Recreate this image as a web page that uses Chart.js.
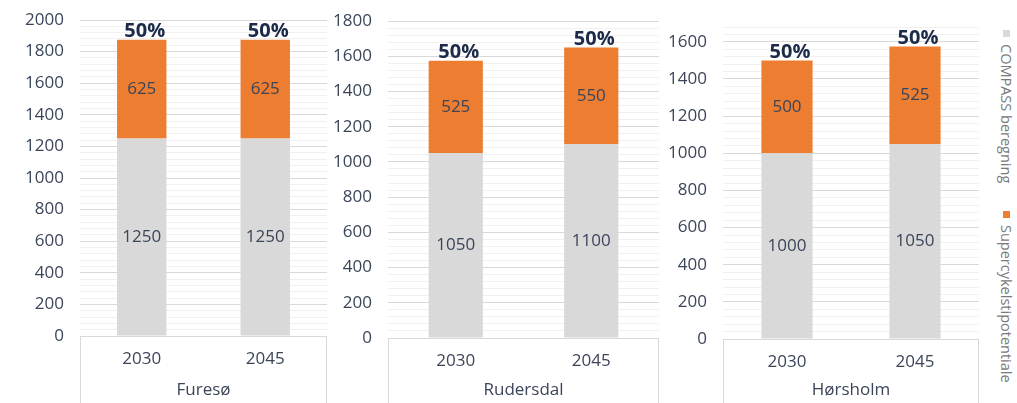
<!DOCTYPE html>
<html>
<head>
<meta charset="utf-8">
<script src="https://cdn.jsdelivr.net/npm/chart.js@4.4.1/dist/chart.umd.min.js"></script>
<style>
  body { margin: 0; background: #fff; width: 1017px; height: 403px; overflow: hidden; position: relative; font-family: 'Open Sans', sans-serif; }
  .panel { position: absolute; top: 0; height: 403px; }
  .legend { position: absolute; left: 997px; writing-mode: vertical-rl; font-size: 14.5px; color: #7a7a7a; white-space: nowrap; }
  .legend i { display: inline-block; width: 7px; height: 7px; margin-bottom: 7px; }
</style>
</head>
<body>
<div class="panel" id="p0" style="left:0;width:330px"><canvas id="c0"></canvas></div>
<div class="panel" id="p1" style="left:330px;width:330px"><canvas id="c1"></canvas></div>
<div class="panel" id="p2" style="left:660px;width:325px"><canvas id="c2"></canvas></div>
<div class="legend" style="top:30px"><i style="background:#d9d9d9"></i>COMPASS beregning</div>
<div class="legend" style="top:211px"><i style="background:#ed7d31"></i>Supercykelstipotentiale</div>
<script>
const years = ['2030', '2045'];
const kommuner = ['Furesø', 'Rudersdal', 'Hørsholm'];
const compass = [[1250, 1250], [1050, 1100], [1000, 1050]];
const potentiale = [[625, 625], [525, 550], [500, 525]];
const yMax = [2000, 1800, 1680];

// panel geometry (px)
const axisWidth = [80, 58, 63];
const padTop = [20, 21, 27];
const padRight = [3, 1, 6];
const plotBottom = [336, 338, 339];

const textColor = '#3b4559';

const boxLines = {
    id: 'boxLines',
    afterDraw(chart) {
        const { ctx, chartArea } = chart;
        ctx.save();
        ctx.strokeStyle = '#d9d9d9';
        ctx.lineWidth = 1;
        ctx.beginPath();
        ctx.moveTo(Math.round(chartArea.left) + 0.5, chartArea.bottom);
        ctx.lineTo(Math.round(chartArea.left) + 0.5, chart.height);
        ctx.moveTo(Math.round(chartArea.right) - 0.5, chartArea.bottom);
        ctx.lineTo(Math.round(chartArea.right) - 0.5, chart.height);
        ctx.stroke();
        ctx.restore();
    }
};

const barLabels = {
    id: 'barLabels',
    afterDatasetsDraw(chart) {
        const ctx = chart.ctx;
        ctx.save();
        ctx.textAlign = 'center';
        chart.data.datasets.forEach((ds, i) => {
            chart.getDatasetMeta(i).data.forEach((bar, j) => {
                ctx.fillStyle = textColor;
                ctx.font = '17px "Open Sans"';
                ctx.textBaseline = 'middle';
                ctx.fillText(ds.data[j], bar.x, (bar.y + bar.base) / 2);
            });
        });
        // percentage over the stack
        const base = chart.data.datasets[0].data;
        const top = chart.data.datasets[1].data;
        chart.getDatasetMeta(1).data.forEach((bar, j) => {
            ctx.fillStyle = '#1c2b4a';
            ctx.font = 'bold 20px "Open Sans"';
            ctx.textBaseline = 'bottom';
            ctx.fillText(Math.round(top[j] / base[j] * 100) + '%', bar.x + 3, bar.y + 2);
        });
        ctx.restore();
    }
};

kommuner.forEach((navn, k) => {
    new Chart(document.getElementById('c' + k), {
        type: 'bar',
        data: {
            labels: years,
            datasets: [{
                label: 'COMPASS beregning',
                data: compass[k],
                backgroundColor: '#d9d9d9',
                borderWidth: 0
            }, {
                label: 'Supercykelstipotentiale',
                data: potentiale[k],
                backgroundColor: '#ed7d31',
                borderWidth: 0
            }]
        },
        options: {
            responsive: true,
            maintainAspectRatio: false,
            animation: false,
            layout: { padding: { top: padTop[k], right: padRight[k], left: 0, bottom: 0 } },
            datasets: { bar: { barPercentage: 0.4, categoryPercentage: 1 } },
            plugins: { legend: { display: false }, tooltip: { enabled: false } },
            scales: {
                x: {
                    stacked: true,
                    grid: { display: false },
                    border: { display: false },
                    ticks: { color: textColor, font: { family: 'Open Sans', size: 17 }, padding: 5 },
                    title: { display: true, text: navn, color: textColor, font: { family: 'Open Sans', size: 17 }, padding: { top: 0, bottom: 3 } },
                    afterFit: s => { s.height = 403 - plotBottom[k]; }
                },
                y: {
                    stacked: true,
                    min: 0,
                    max: yMax[k],
                    border: { display: false },
                    grid: {
                        drawTicks: true,
                        tickLength: 16,
                        tickColor: 'rgba(0,0,0,0)',
                        color: c => c.tick.value % 200 === 0 ? '#d9d9d9' : '#f0f0f0'
                    },
                    ticks: {
                        stepSize: 40,
                        autoSkip: false,
                        padding: 0,
                        color: textColor,
                        font: { family: 'Open Sans', size: 17 },
                        callback: v => v % 200 === 0 ? v : ''
                    },
                    afterFit: s => { s.width = axisWidth[k]; }
                }
            }
        },
        plugins: [boxLines, barLabels]
    });
});
</script>
</body>
</html>
